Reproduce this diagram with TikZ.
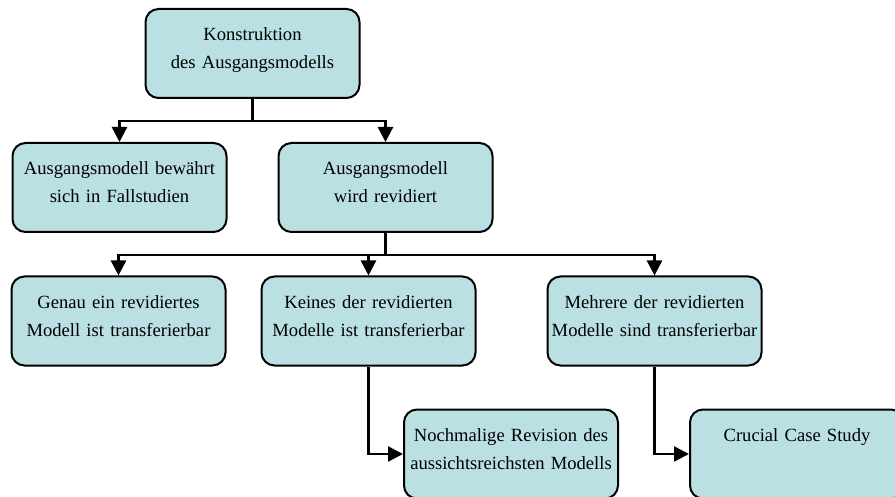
\documentclass[tikz,border=0pt]{standalone}
\usepackage{fontspec}
\setmainfont{Liberation Serif}
\usepackage{tikz}
\usetikzlibrary{arrows.meta}
\usetikzlibrary{positioning}
\definecolor{boxfill}{RGB}{186,224,227}

\begin{document}
\begin{tikzpicture}[x=1pt, y=-1pt,
	box/.style={draw, line width=2pt, rounded corners=13pt, fill=boxfill, minimum width=214pt, text width=206pt, align=center, inner xsep=4pt, inner ysep=0pt, text height=32pt, text depth=57pt, font=\fontsize{18.6}{28}\selectfont},
	arr/.style={line width=2.4pt, -{Triangle[length=15pt,width=15pt]}}]
				\useasboundingbox (0,0) rectangle (895,497);
				\clip (0,0) rectangle (895,497);
				
				\node[box] (konstr) at (252.5,53.5) {Konstruktion\\des Ausgangsmodells};
				\node[box] (bewaehrt) at (119.5,187.5) {Ausgangsmodell bewährt\\sich in Fallstudien};
				\node[box] (revidiert) at (385.5,187.5) {Ausgangsmodell\\wird revidiert};
				\node[box] (genau) at (118.5,321) {Genau ein revidiertes\\Modell ist transferierbar};
				\node[box] (keines) at (368.5,321) {Keines der revidierten\\Modelle ist transferierbar};
				\node[box] (mehrere) at (654.5,321) {Mehrere der revidierten\\Modelle sind transferierbar};
				\node[box] (nochmal) at (511,454) {Nochmalige Revision des\\aussichtsreichsten Modells};
				\node[box] (crucial) at (797,454) {Crucial Case Study};
				
				\draw[arr] (konstr.south) -- ++(0,22) -| (bewaehrt.north);
				\draw[arr] (konstr.south) -- ++(0,22) -| (revidiert.north);
				\draw[arr] (revidiert.south) -- ++(0,22) -| (genau.north);
				\draw[arr] (revidiert.south) -- ++(0,22) -| (keines.north);
				\draw[arr] (revidiert.south) -- ++(0,22) -| (mehrere.north);
				\draw[arr] (keines.south) |- (nochmal.west);
				\draw[arr] (mehrere.south) |- (crucial.west);
			\end{tikzpicture}
\end{document}
